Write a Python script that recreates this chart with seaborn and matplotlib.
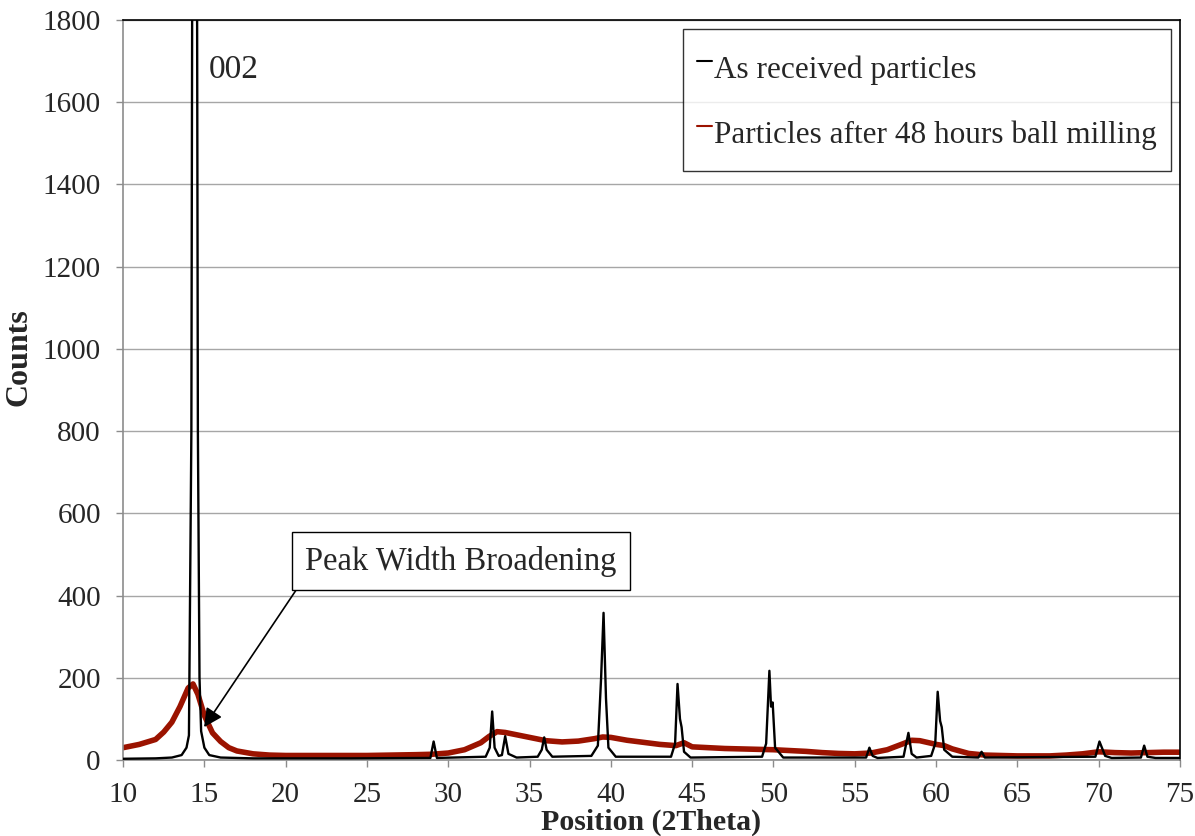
import matplotlib
matplotlib.use('Agg')
import matplotlib.pyplot as plt
import seaborn as sns

# as received particles (key points)
received_x = [10.0, 12.0, 13.0, 13.6, 13.9, 14.05, 14.2, 14.28, 14.4, 14.52, 14.6, 14.7, 14.8, 15.0, 15.3, 16.0, 18.0,
              24.0, 28.9, 29.1, 29.3, 32.3, 32.55, 32.7, 32.85, 33.1, 33.3, 33.5, 33.7, 34.2,
              35.5, 35.75, 35.9, 36.05, 36.4, 38.8, 39.2, 39.4, 39.55, 39.7, 39.85, 40.3,
              43.7, 43.95, 44.1, 44.25, 44.35, 44.5, 44.9, 49.3, 49.55, 49.75, 49.85, 49.95, 50.1, 50.6,
              55.7, 55.9, 56.1, 56.4, 58.0, 58.3, 58.5, 58.8, 59.7, 59.95, 60.1, 60.25, 60.35, 60.5, 61.0,
              62.6, 62.8, 63.0, 69.8, 70.05, 70.2, 70.4, 70.8, 72.6, 72.8, 73.0, 73.5, 75.0]
received_y = [3, 4, 6, 12, 30, 60, 800, 2500, 5000, 2500, 800, 200, 70, 30, 12, 6, 4,
              4, 5, 45, 5, 8, 30, 118, 30, 10, 12, 58, 15, 6,
              8, 25, 55, 25, 8, 10, 35, 200, 358, 150, 30, 8,
              8, 40, 185, 100, 80, 20, 6, 8, 40, 217, 130, 140, 30, 6,
              6, 30, 10, 5, 8, 66, 15, 6, 10, 40, 166, 95, 80, 25, 8,
              6, 20, 6, 8, 45, 30, 10, 5, 6, 35, 8, 5, 5]

# particles after 48 hours ball milling (smoothed trace)
milled_x = [10, 11, 12, 12.5, 13, 13.5, 14.0, 14.3, 14.6, 15.0, 15.5, 16, 16.5, 17, 18, 19, 20, 22, 25, 28,
            29, 30, 31, 32, 32.5, 33, 33.5, 34, 35, 36, 37, 38, 39, 39.5, 40, 41, 42, 43, 44, 44.5, 45,
            46, 47, 48, 49, 50, 51, 52, 53, 54, 55, 56, 57, 58, 58.5, 59, 60, 60.5, 61, 62, 63, 65, 67,
            68, 69, 70, 71, 72, 73, 74, 75]
milled_y = [30, 38, 50, 68, 92, 130, 175, 185, 160, 108, 66, 45, 30, 22, 15, 12, 11, 11, 11, 13,
            14, 17, 25, 42, 57, 69, 67, 63, 55, 47, 44, 46, 52, 56, 55, 48, 43, 38, 35, 42, 32,
            30, 28, 27, 26, 25, 23, 21, 18, 16, 15, 17, 25, 40, 48, 47, 38, 35, 27, 16, 12, 10, 10,
            12, 15, 20, 18, 17, 18, 19, 19]

y_ticks = list(range(0, 1801, 200))
x_ticks = list(range(10, 76, 5))

sns.set_theme(style='white')
plt.rcParams['font.family'] = ['Liberation Serif', 'DejaVu Serif']

fig, ax = plt.subplots(figsize=(11.95, 8.36), dpi=100)
fig.subplots_adjust(left=0.103, right=0.9874, top=0.976, bottom=0.0909)

ax.yaxis.grid(True, color='#a6a6a6', linewidth=1.0)
ax.set_axisbelow(True)

sns.lineplot(x=milled_x, y=milled_y, ax=ax, color='#9b1300', linewidth=4.0,
             label='Particles after 48 hours ball milling', estimator=None, sort=False, zorder=2)
sns.lineplot(x=received_x, y=received_y, ax=ax, color='black', linewidth=1.7,
             label='As received particles', estimator=None, sort=False, zorder=3)

ax.set_xlim(10, 75)
ax.set_ylim(0, 1800)
ax.set_xticks(x_ticks)
ax.set_yticks(y_ticks)
ax.tick_params(axis='both', labelsize=21, direction='out', length=5, width=1, color='#8c8c8c',
               bottom=True, left=True, pad=11)
for s in ['left', 'bottom']:
    ax.spines[s].set_color('#8c8c8c')
    ax.spines[s].set_linewidth(1.2)
for s in ['top', 'right']:
    ax.spines[s].set_color('black')
    ax.spines[s].set_linewidth(1.2)

ax.set_xlabel('Position (2Theta)', fontsize=21.5, fontweight='bold')
ax.set_ylabel('Counts', fontsize=23, fontweight='bold')
ax.xaxis.set_label_coords(0.5, -0.066)
ax.yaxis.set_label_coords(-0.085, 0.545)

# legend order: as received first
handles, labels = ax.get_legend_handles_labels()
leg = ax.legend(handles[::-1], labels[::-1], loc='upper right', fontsize=22.5, frameon=True, fancybox=False,
                edgecolor='black', handlelength=0.5, handletextpad=0.05, handleheight=2.0,
                labelspacing=0.55, borderaxespad=0.3, borderpad=0.45)
leg.get_frame().set_linewidth(1.0)
for line in leg.get_lines():
    line.set_linewidth(1.5)

ax.text(15.25, 1680, '002', fontsize=24, va='center', ha='left')

ax.annotate('Peak Width Broadening', xy=(14.98, 80), xytext=(21.2, 484), fontsize=23.5,
            ha='left', va='center',
            bbox=dict(boxstyle='square,pad=0.4', fc='white', ec='black', lw=1.0),
            arrowprops=dict(arrowstyle='-|>', color='black', lw=1.2, mutation_scale=28,
                            relpos=(0, 0), shrinkA=0, shrinkB=0))

plt.savefig('out.png', dpi=100)
